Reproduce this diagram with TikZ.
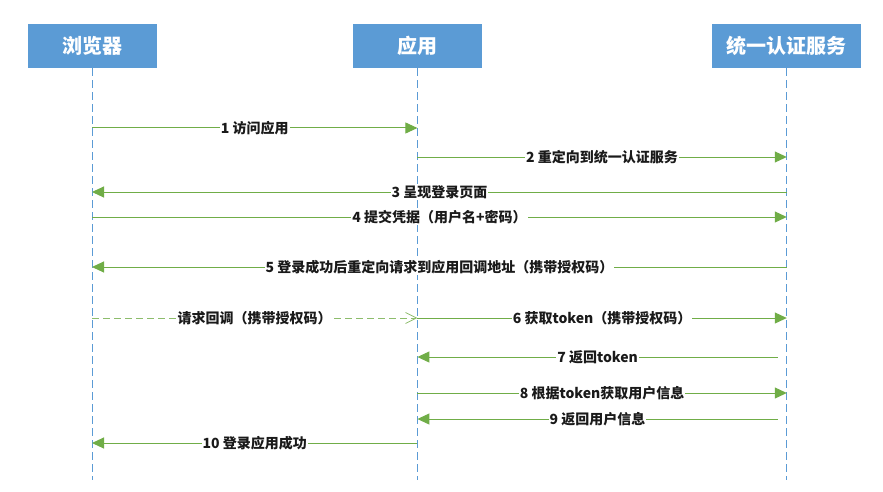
\documentclass[tikz,border=0pt]{standalone}
\usepackage{fontspec}
\setmainfont{Noto Sans CJK SC}
\usepackage{xcolor}
\usepackage{tikz}
\usetikzlibrary{positioning,arrows.meta,calc}
\definecolor{headblue}{HTML}{5B9BD5}
\definecolor{lineblue}{HTML}{5B9BD5}
\definecolor{msggreen}{HTML}{70AD47}
\definecolor{darkink}{HTML}{1A1A1A}

\begin{document}
\begin{tikzpicture}[
  x=1pt, y=-1pt,
  head/.style={fill=headblue, text=white, minimum height=44pt, align=center, inner sep=0pt, font=\fontsize{20}{22}\selectfont\bfseries},
  life/.style={draw=lineblue, line width=0.9pt, dash pattern=on 8pt off 4pt},
  msg/.style={-{Triangle[length=12pt, width=11pt]}, draw=msggreen, line width=1pt},
  cb/.style={-{Straight Barb[length=11pt, width=11pt, line width=0.8pt]}, draw=msggreen!80, line width=1pt, dash pattern=on 7pt off 4pt},
  lbl/.style={fill=white, inner sep=1pt, text=darkink, font=\fontsize{14}{16}\selectfont\bfseries}
]
  \useasboundingbox (0,0) rectangle (883,492);

  % Participants
  \node[head, minimum width=129pt] (bro) at (92,46) {浏览器};
  \node[head, minimum width=129pt, right=196pt of bro] (app) {应用};
  \node[head, minimum width=149pt, right=230pt of app] (sso) {统一认证服务};

  % Lifelines
  \coordinate (broEnd) at (bro |- 0,480);
  \coordinate (appEnd) at (app |- 0,480);
  \coordinate (ssoEnd) at (sso |- 0,480);
  \draw[life] (bro.south) -- (broEnd);
  \draw[life] (app.south) -- (appEnd);
  \draw[life] (sso.south) -- (ssoEnd);

  % Message anchors on each lifeline
  \foreach \n/\y in {1/128,2/157,3/192,4/217,5/267,6/318,7/357,8/393,9/419,10/443} {
    \coordinate (b\n) at (bro |- 0,\y);
    \coordinate (a\n) at (app |- 0,\y);
    \coordinate (s\n) at (sso |- 0,\y);
  }

  % Messages
  \draw[msg] (b1) -- node[lbl] {1 访问应用} (a1);
  \draw[msg] (a2) -- node[lbl] {2 重定向到统一认证服务} (s2);
  \draw[msg] (s3) -- node[lbl] {3 呈现登录页面} (b3);
  \draw[msg] (b4) -- node[lbl] {4 提交凭据（用户名+密码）} (s4);
  \draw[msg] (s5) -- node[lbl] {5 登录成功后重定向请求到应用回调地址（携带授权码）} (b5);
  \draw[cb] (b6) -- node[lbl] {请求回调（携带授权码）} (a6);
  \draw[msg] (a6) -- node[lbl] {6 获取token（携带授权码）} (s6);
  \draw[msg] ([xshift=-9pt]s7) -- node[lbl] {7 返回token} (a7);
  \draw[msg] (a8) -- node[lbl] {8 根据token获取用户信息} (s8);
  \draw[msg] ([xshift=-9pt]s9) -- node[lbl] {9 返回用户信息} (a9);
  \draw[msg] (a10) -- node[lbl] {10 登录应用成功} (b10);
\end{tikzpicture}
\end{document}
